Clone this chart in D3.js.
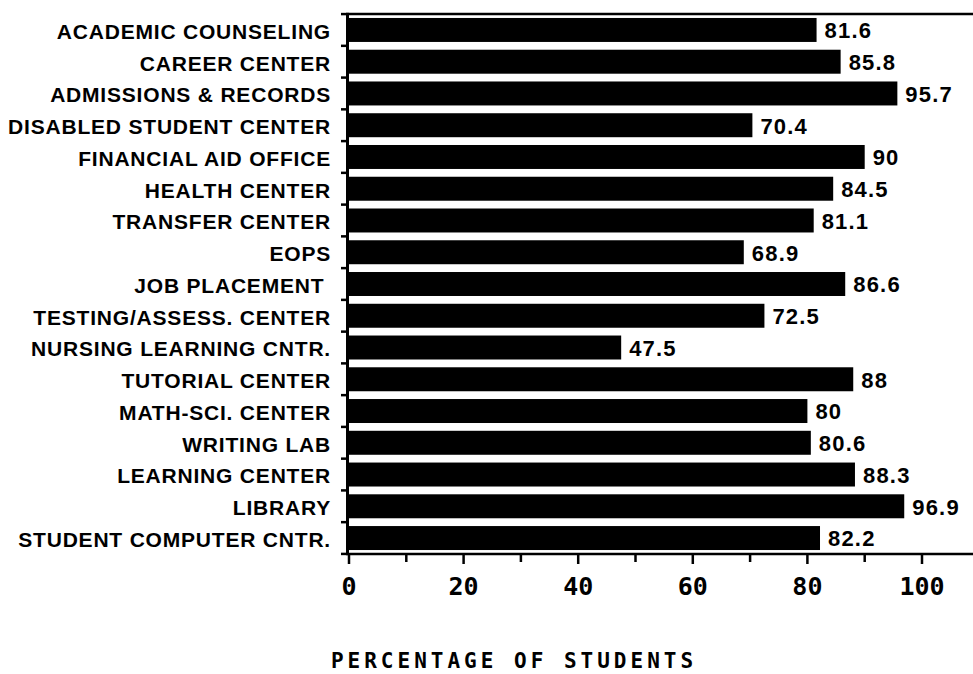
<!DOCTYPE html>
<html>
<head>
<meta charset="utf-8">
<script src="https://cdn.jsdelivr.net/npm/d3@7"></script>
<style>
  body { margin: 0; background: #fff; }
  .cat { font-family: "Liberation Sans", Arial, sans-serif; font-weight: bold; font-size: 21px; letter-spacing: 0.8px; fill: #000; white-space: pre; }
  .val { font-family: "Liberation Sans", Arial, sans-serif; font-weight: bold; font-size: 22px; letter-spacing: 1.2px; fill: #000; }
  .tick-lbl { font-family: "DejaVu Sans Mono", monospace; font-weight: bold; font-size: 25px; fill: #000; }
  .title { font-family: "DejaVu Sans Mono", monospace; font-weight: bold; font-size: 21px; letter-spacing: 4px; fill: #000; }
</style>
</head>
<body>
<div id="chart"></div>
<script>
// categories, top to bottom
var categories = [
  "ACADEMIC COUNSELING", "CAREER CENTER", "ADMISSIONS & RECORDS",
  "DISABLED STUDENT CENTER", "FINANCIAL AID OFFICE", "HEALTH CENTER",
  "TRANSFER CENTER", "EOPS", "JOB PLACEMENT ", "TESTING/ASSESS. CENTER",
  "NURSING LEARNING CNTR.", "TUTORIAL CENTER", "MATH-SCI. CENTER",
  "WRITING LAB", "LEARNING CENTER", "LIBRARY", "STUDENT COMPUTER CNTR."
];
// percentage of students
var percents = [81.6, 85.8, 95.7, 70.4, 90, 84.5, 81.1, 68.9, 86.6, 72.5, 47.5, 88, 80, 80.6, 88.3, 96.9, 82.2];
var valueLabels = ["81.6", "85.8", "95.7", "70.4", "90", "84.5", "81.1", "68.9", "86.6", "72.5", "47.5", "88", "80", "80.6", "88.3", "96.9", "82.2"];
var tickValues = [0, 10, 20, 30, 40, 50, 60, 70, 80, 90, 100];
var tickLabels = [0, 20, 40, 60, 80, 100];
var axisTitle = "PERCENTAGE OF STUDENTS";

var width = 973, height = 674;
var svg = d3.select("#chart").append("svg")
    .attr("width", width)
    .attr("height", height);

var topY = 14, axisY = 554;
var x = d3.scaleLinear().domain([0, 100]).range([349, 922]);
var y = d3.scaleBand().domain(categories).range([topY, axisY]).paddingInner(0.245).paddingOuter(0.125);

var rows = categories.map(function(c, i) { return {cat: c, v: percents[i], lbl: valueLabels[i]}; });

// bars
svg.selectAll(".bar")
    .data(rows)
  .enter().append("rect")
    .attr("class", "bar")
    .attr("x", x(0))
    .attr("y", function(d) { return y(d.cat); })
    .attr("width", function(d) { return x(d.v) - x(0); })
    .attr("height", y.bandwidth())
    .style("fill", "#000");

// value labels
svg.selectAll(".val")
    .data(rows)
  .enter().append("text")
    .attr("class", "val")
    .attr("x", function(d) { return x(d.v) + 8; })
    .attr("y", function(d) { return y(d.cat) + y.bandwidth() / 2; })
    .attr("dy", "0.38em")
    .text(function(d) { return d.lbl; });

// category labels
svg.selectAll(".cat")
    .data(rows)
  .enter().append("text")
    .attr("class", "cat")
    .attr("x", 331)
    .attr("y", function(d) { return y(d.cat) + y.bandwidth() / 2; })
    .attr("dy", "0.42em")
    .attr("text-anchor", "end")
    .text(function(d) { return d.cat; });

// frame lines
svg.append("line")
    .attr("x1", x(0) - 3).attr("x2", width)
    .attr("y1", topY).attr("y2", topY)
    .style("stroke", "#000").style("stroke-width", 2.5);
svg.append("line")
    .attr("x1", x(0) - 3).attr("x2", width)
    .attr("y1", axisY).attr("y2", axisY)
    .style("stroke", "#000").style("stroke-width", 2.5);
svg.append("line")
    .attr("x1", x(0) - 1.5).attr("x2", x(0) - 1.5)
    .attr("y1", topY - 1).attr("y2", axisY + 1)
    .style("stroke", "#000").style("stroke-width", 3);

// y ticks between the bars
var step = y.step();
var bounds = categories.map(function(c) { return y(c) - step * y.paddingInner() / 2; });
bounds.push(y(categories[categories.length - 1]) + y.bandwidth() + step * y.paddingInner() / 2);
svg.selectAll(".ytick")
    .data(bounds)
  .enter().append("line")
    .attr("x1", x(0) - 8).attr("x2", x(0))
    .attr("y1", function(d) { return d; }).attr("y2", function(d) { return d; })
    .style("stroke", "#000").style("stroke-width", 2.5);

// x ticks
svg.selectAll(".xtick")
    .data(tickValues)
  .enter().append("line")
    .attr("x1", function(d) { return x(d); }).attr("x2", function(d) { return x(d); })
    .attr("y1", axisY).attr("y2", function(d) { return d % 20 === 0 ? axisY + 10 : axisY + 8; })
    .style("stroke", "#000").style("stroke-width", 2.5);

svg.selectAll(".tick-lbl")
    .data(tickLabels)
  .enter().append("text")
    .attr("class", "tick-lbl")
    .attr("x", function(d) { return x(d); })
    .attr("y", 595)
    .attr("text-anchor", "middle")
    .text(function(d) { return d; });

svg.append("text")
    .attr("class", "title")
    .attr("x", 514)
    .attr("y", 668)
    .attr("text-anchor", "middle")
    .text(axisTitle);
</script>
</body>
</html>
